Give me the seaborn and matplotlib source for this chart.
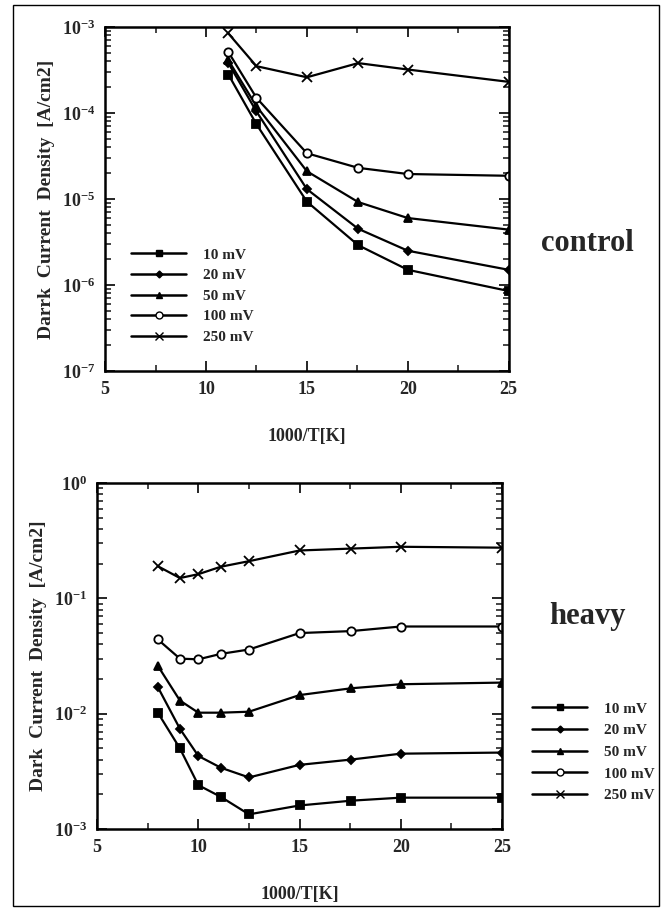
import numpy as np
import pandas as pd
import matplotlib
matplotlib.use("Agg")
import matplotlib.pyplot as plt
from matplotlib.lines import Line2D
from matplotlib.ticker import FixedLocator, LogLocator, NullFormatter, FuncFormatter
import seaborn as sns

# dati: 1000/T e densita' di corrente di buio (A/cm2)
bias_labels = ["10 mV", "20 mV", "50 mV", "100 mV", "250 mV"]

x_control = [11.11, 12.5, 15, 17.54, 20, 25]
control_10 = [2.8e-4, 7.4e-5, 9.3e-6, 2.9e-6, 1.5e-6, 8.5e-7]
control_20 = [3.8e-4, 1.04e-4, 1.3e-5, 4.5e-6, 2.5e-6, 1.5e-6]
control_50 = [4.1e-4, 1.2e-4, 2.1e-5, 9.2e-6, 6.0e-6, 4.4e-6]
control_100 = [5.1e-4, 1.5e-4, 3.4e-5, 2.3e-5, 1.95e-5, 1.86e-5]
control_250 = [8.4e-4, 3.5e-4, 2.6e-4, 3.8e-4, 3.2e-4, 2.3e-4]

x_heavy = [8, 9.09, 10, 11.11, 12.5, 15, 17.54, 20, 25]
heavy_10 = [0.0102, 0.0050, 0.0024, 0.0019, 0.00134, 0.0016, 0.00176, 0.00187, 0.00187]
heavy_20 = [0.017, 0.0074, 0.0043, 0.0034, 0.0028, 0.0036, 0.0040, 0.0045, 0.0046]
heavy_50 = [0.026, 0.0130, 0.0102, 0.0102, 0.0104, 0.0145, 0.0166, 0.018, 0.0186]
heavy_100 = [0.044, 0.030, 0.0296, 0.033, 0.036, 0.050, 0.052, 0.057, 0.057]
heavy_250 = [0.19, 0.15, 0.162, 0.188, 0.21, 0.26, 0.27, 0.28, 0.275]

marker_map = {"10 mV": "s", "20 mV": "D", "50 mV": "^", "100 mV": "o", "250 mV": "x"}
size_map = {"10 mV": 6, "20 mV": 4.5, "50 mV": 6, "100 mV": 6, "250 mV": 7}


def costruisci_df(x, serie):
    righe = []
    for lab, vals in zip(bias_labels, serie):
        for xi, yi in zip(x, vals):
            righe.append({"x": xi, "y": yi, "bias": lab})
    return pd.DataFrame(righe)


df_control = costruisci_df(x_control, [control_10, control_20, control_50, control_100, control_250])
df_heavy = costruisci_df(x_heavy, [heavy_10, heavy_20, heavy_50, heavy_100, heavy_250])

sns.set_theme(style="white")
plt.rcParams["font.family"] = ["Liberation Serif", "DejaVu Serif"]
plt.rcParams["font.weight"] = "bold"
plt.rcParams["mathtext.fontset"] = "custom"
plt.rcParams["mathtext.rm"] = "Liberation Serif:bold"
plt.rcParams["mathtext.bf"] = "Liberation Serif:bold"
plt.rcParams["mathtext.default"] = "bf"

fig = plt.figure(figsize=(6.65, 9.11), dpi=100)
# cornice della pagina
fig.patches.append(plt.Rectangle((0.019, 0.005), 0.972, 0.99, transform=fig.transFigure,
                                 fill=False, edgecolor="black", linewidth=1.0))

ax1 = fig.add_axes([0.158, 0.5928, 0.607, 0.3776])
ax2 = fig.add_axes([0.146, 0.090, 0.609, 0.3798])


def esponente(v, pos):
    e = int(round(np.log10(v)))
    return r"10$^{%d}$" % e


def disegna(ax, df, ylim, ylabel):
    for lab in bias_labels:
        sub = df[df["bias"] == lab]
        filled = lab != "100 mV"
        sns.lineplot(data=sub, x="x", y="y", ax=ax, color="black", linewidth=1.6,
                     marker=marker_map[lab], markersize=size_map[lab],
                     markerfacecolor="black" if filled else "white",
                     markeredgecolor="black", markeredgewidth=1.3, legend=False)
    ax.set_yscale("log")
    ax.set_ylim(*ylim)
    ax.set_xlim(5, 25)
    ax.xaxis.set_major_locator(FixedLocator([5, 10, 15, 20, 25]))
    ax.xaxis.set_minor_locator(FixedLocator([7.5, 12.5, 17.5, 22.5]))
    ax.yaxis.set_major_locator(LogLocator(base=10, numticks=100))
    ax.yaxis.set_minor_locator(LogLocator(base=10, subs=np.arange(2, 10), numticks=100))
    ax.yaxis.set_minor_formatter(NullFormatter())
    ax.yaxis.set_major_formatter(FuncFormatter(esponente))
    ax.tick_params(which="both", direction="in", top=True, right=True, bottom=True, left=True)
    ax.tick_params(which="major", length=7, width=1.4, labelsize=13, pad=7)
    ax.tick_params(which="minor", length=4, width=1.2)
    for s in ax.spines.values():
        s.set_linewidth(1.8)
        s.set_color("black")
    for t in ax.get_xticklabels() + ax.get_yticklabels():
        t.set_fontweight("bold")
    ax.set_xlabel("1000/T[K]", fontsize=13, fontweight="bold", labelpad=22)
    ax.set_ylabel(ylabel, fontsize=14, fontweight="bold", labelpad=5)


disegna(ax1, df_control, (1e-7, 1e-3), "Darrk  Current  Density  [A/cm2]")
disegna(ax2, df_heavy, (1e-3, 1e0), "Dark  Current  Density  [A/cm2]")

handles = []
for lab in bias_labels:
    filled = lab != "100 mV"
    handles.append(Line2D([0], [0], color="black", linewidth=1.8, marker=marker_map[lab],
                          markersize=size_map[lab] - 1,
                          markerfacecolor="black" if filled else "white",
                          markeredgecolor="black"))

ax1.legend(handles, bias_labels, loc="upper left", bbox_to_anchor=(0.05, 0.375), frameon=False,
           handlelength=3.6, handletextpad=1.1, labelspacing=0.45, borderaxespad=0.0,
           prop={"family": "Liberation Serif", "weight": "bold", "size": 11})
ax2.legend(handles, bias_labels, loc="upper left", bbox_to_anchor=(1.06, 0.385), frameon=False,
           handlelength=3.6, handletextpad=1.1, labelspacing=0.52, borderaxespad=0.0,
           prop={"family": "Liberation Serif", "weight": "bold", "size": 11})

fig.text(0.883, 0.733, "control", fontsize=22, fontweight="bold", ha="center", va="center")
fig.text(0.883, 0.323, "heavy", fontsize=22, fontweight="bold", ha="center", va="center")

fig.savefig("out.png", dpi=100)
